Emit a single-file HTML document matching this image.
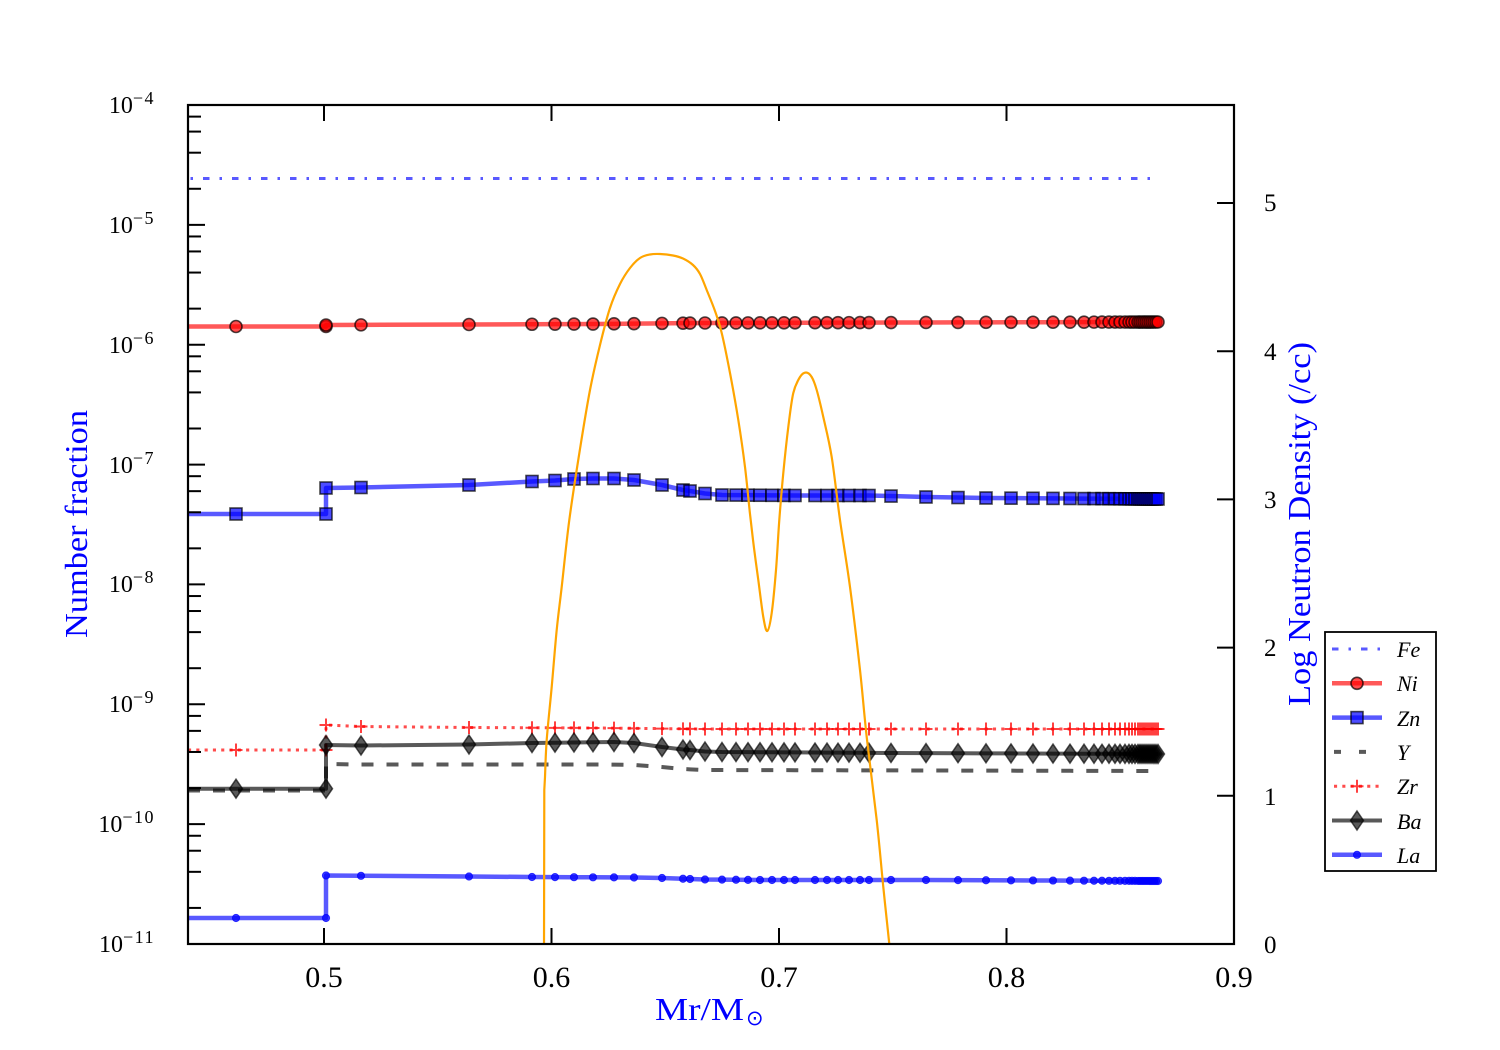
<!DOCTYPE html>
<html><head><meta charset="utf-8">
<style>
html,body{margin:0;padding:0;background:#fff;}
svg{display:block;}
text{font-family:"Liberation Serif","DejaVu Serif",serif;}
</style></head><body>
<svg id="c" width="1500" height="1050" viewBox="0 0 1500 1050" xmlns="http://www.w3.org/2000/svg">
<rect width="1500" height="1050" fill="#fff"/>
<defs><clipPath id="clip"><rect x="188" y="105" width="1046" height="839"/></clipPath></defs>
<g id="data" clip-path="url(#clip)"></g>
<g id="axes"></g>

<!-- left tick labels -->
<g font-size="24" fill="#000" text-anchor="end">
<text x="155" y="113">10<tspan dy="-9" font-size="18" letter-spacing="1.5">−4</tspan></text>
<text x="155" y="233">10<tspan dy="-9" font-size="18" letter-spacing="1.5">−5</tspan></text>
<text x="155" y="353">10<tspan dy="-9" font-size="18" letter-spacing="1.5">−6</tspan></text>
<text x="155" y="473">10<tspan dy="-9" font-size="18" letter-spacing="1.5">−7</tspan></text>
<text x="155" y="592">10<tspan dy="-9" font-size="18" letter-spacing="1.5">−8</tspan></text>
<text x="155" y="712">10<tspan dy="-9" font-size="18" letter-spacing="1.5">−9</tspan></text>
<text x="155" y="832">10<tspan dy="-9" font-size="18" letter-spacing="1.5">−10</tspan></text>
<text x="155" y="952">10<tspan dy="-9" font-size="18" letter-spacing="1.5">−11</tspan></text>
</g>

<!-- bottom tick labels -->
<g font-size="30" fill="#000" text-anchor="middle">
<text x="324" y="987">0.5</text>
<text x="551.5" y="987">0.6</text>
<text x="779" y="987">0.7</text>
<text x="1006.5" y="987">0.8</text>
<text x="1234" y="987">0.9</text>
</g>

<!-- right tick labels -->
<g font-size="25" fill="#000" text-anchor="start">
<text x="1264" y="953">0</text>
<text x="1264" y="805">1</text>
<text x="1264" y="656">2</text>
<text x="1264" y="508">3</text>
<text x="1264" y="360">4</text>
<text x="1264" y="211">5</text>
</g>

<!-- axis labels -->
<text transform="translate(87,524) rotate(-90)" text-anchor="middle" font-size="32" fill="#0000ff" textLength="228" lengthAdjust="spacingAndGlyphs">Number fraction</text>
<text transform="translate(1310,524) rotate(-90)" text-anchor="middle" font-size="32" fill="#0000ff" textLength="364" lengthAdjust="spacingAndGlyphs">Log Neutron Density (/cc)</text>
<text x="655" y="1020" font-size="32" fill="#0000ff" textLength="89" lengthAdjust="spacingAndGlyphs">Mr/M</text>
<text x="746" y="1025" font-size="21" fill="#0000ff" style="font-family:'DejaVu Sans',sans-serif">⊙</text>

<!-- legend -->
<rect x="1325" y="632" width="111" height="239" fill="#fff" stroke="#000" stroke-width="1.8"/>
<g id="legend"></g>
<g font-size="22" font-style="italic" fill="#000">
<text x="1397" y="657">Fe</text>
<text x="1397" y="691">Ni</text>
<text x="1397" y="726">Zn</text>
<text x="1397" y="760">Y</text>
<text x="1397" y="794">Zr</text>
<text x="1397" y="829">Ba</text>
<text x="1397" y="863">La</text>
</g>
</svg>
<script>
(function(){
const NS='http://www.w3.org/2000/svg';
const data=document.getElementById('data');
const axes=document.getElementById('axes');
const leg=document.getElementById('legend');
function el(tag,attrs,parent){const e=document.createElementNS(NS,tag);for(const k in attrs)e.setAttribute(k,attrs[k]);(parent||data).appendChild(e);return e;}
function interp(kp,x){if(x<=kp[0][0])return kp[0][1];for(let i=1;i<kp.length;i++){if(x<=kp[i][0]){const x0=kp[i-1][0],y0=kp[i-1][1],x1=kp[i][0],y1=kp[i][1];return y0+(y1-y0)*(x-x0)/(x1-x0);}}return kp[kp.length-1][1];}
const xsAfter=[361,469,532,555,574,593,614,634,662,683,690,705,722,736,748,760,772,784,795,815,827,838,849,860,869,891,926,958,986,1011,1033,1053,1070,1084,1094,1102,1109,1115,1120,1125,1129,1132,1135,1138,1140,1142,1144,1146,1148,1150,1152,1154,1156,1158];

function marker(type,x,y,g){
  g=g||data;
  if(type==='circle'){el('circle',{cx:x,cy:y,r:6,fill:'rgba(255,0,0,0.7)',stroke:'rgba(0,0,0,0.7)','stroke-width':1.6},g);}
  else if(type==='square'){el('rect',{x:x-6,y:y-6,width:12,height:12,fill:'rgba(0,0,255,0.7)',stroke:'rgba(0,0,0,0.7)','stroke-width':1.6},g);}
  else if(type==='diamond'){el('polygon',{points:`${x},${y-9.5} ${x+6.5},${y} ${x},${y+9.5} ${x-6.5},${y}`,fill:'rgba(0,0,0,0.65)',stroke:'rgba(0,0,0,0.65)','stroke-width':1.5},g);}
  else if(type==='dot'){el('circle',{cx:x,cy:y,r:3.6,fill:'rgba(0,0,255,0.75)',stroke:'rgba(0,0,255,0.75)','stroke-width':1},g);}
  else if(type==='plus'){el('path',{d:`M${x-6.5},${y}H${x+6.5}M${x},${y-6.5}V${y+6.5}`,stroke:'rgba(255,0,0,0.75)','stroke-width':2,fill:'none'},g);}
}

// Fe
el('line',{x1:188,y1:178.5,x2:1157,y2:178.5,stroke:'rgba(0,0,255,0.65)','stroke-width':3,'stroke-dasharray':'6.5 10 2.5 10','stroke-dashoffset':14});

const series=[
 {before:326.5,after:[[326,325],[469,324.5],[600,324],[700,323],[900,322.5],[1158,322]],color:'rgba(255,0,0,0.65)',lw:4.5,m:'circle'},
 {before:514,after:[[326,488],[361,487.5],[469,485],[532,481.5],[555,480.5],[574,479],[593,478.5],[614,478.5],[634,480],[662,485],[683,490],[690,491],[705,493.5],[722,495],[800,495.5],[870,495.5],[926,497],[986,498],[1158,499]],color:'rgba(0,0,255,0.65)',lw:4.5,m:'square'},
 {before:790.5,after:[[326,764],[361,764.5],[600,764.5],[640,765],[662,767],[683,769],[705,770],[1158,771]],color:'rgba(0,0,0,0.65)',lw:4,m:null,dash:'12 13'},
 {before:750,after:[[326,725],[361,726.5],[469,727.5],[600,728],[700,729],[1158,729]],color:'rgba(255,0,0,0.7)',lw:3,m:'plus',dash:'3.1 5.2'},
 {before:788.7,after:[[326,745],[361,745.5],[469,744.5],[532,743],[574,742.5],[614,742],[634,743],[662,747],[683,749.5],[690,750],[705,751.5],[722,752],[900,753],[1158,754]],color:'rgba(0,0,0,0.65)',lw:4,m:'diamond'},
 {before:918,after:[[326,875.5],[361,875.8],[469,876.5],[532,877],[634,877.5],[662,878],[705,879.5],[760,880],[926,880],[1158,881]],color:'rgba(0,0,255,0.65)',lw:4.5,m:'dot'}
];
series.forEach(s=>{
  const pts=[[188,s.before],[236,s.before],[326,s.before],[326,interp(s.after,326)]];
  xsAfter.forEach(x=>pts.push([x,interp(s.after,x)]));
  const a={points:pts.map(p=>p[0]+','+p[1].toFixed(2)).join(' '),fill:'none',stroke:s.color,'stroke-width':s.lw,'stroke-linejoin':'round'};
  if(s.dash)a['stroke-dasharray']=s.dash;
  el('polyline',a);
  if(s.m){
    marker(s.m,236,s.before);
    marker(s.m,326,s.before);
    marker(s.m,326,interp(s.after,326));
    xsAfter.forEach(x=>marker(s.m,x,interp(s.after,x)));
  }
});

// orange neutron density (smoothed with Catmull-Rom)
const orange=[[545,777],[546.7,740],[551.7,687],[556.7,630],[561.7,587],[569.3,520],[580,449],[590,390],[600,345],[610,308],[620,284],[630,268],[640,258],[650,254.5],[660,254],[673,255.5],[683,258.5],[693,265],[700,274],[706.7,290],[715,311],[721.7,333],[730,373],[738.3,420],[745,467],[750,514],[754,548],[758.3,580],[763.3,617],[767.3,631],[771.7,613],[776,570],[779.3,520],[783.3,473],[788.3,427],[793.3,393],[800,377],[806,372.5],[811.7,377],[816.7,390],[823.3,417],[831.7,457],[840,520],[850,587],[860,670],[866.7,737],[876.7,820],[883.3,887],[889.3,944],[890,952]];
function crPath(p){
  let d='M'+p[0][0]+','+p[0][1];
  for(let i=0;i<p.length-1;i++){
    const p0=p[i-1]||p[i],p1=p[i],p2=p[i+1],p3=p[i+2]||p2;
    const c1x=p1[0]+(p2[0]-p0[0])/6,c1y=p1[1]+(p2[1]-p0[1])/6;
    const c2x=p2[0]-(p3[0]-p1[0])/6,c2y=p2[1]-(p3[1]-p1[1])/6;
    d+=` C${c1x.toFixed(2)},${c1y.toFixed(2)} ${c2x.toFixed(2)},${c2y.toFixed(2)} ${p2[0]},${p2[1]}`;
  }
  return d;
}
el('path',{d:'M544,952 L544.3,790 L545,777 '+crPath(orange).replace(/^M[^ ]+/,''),fill:'none',stroke:'#ffa500','stroke-width':2.2,'stroke-linejoin':'round'});

// axes frame & ticks
el('rect',{x:188,y:105,width:1046,height:839,fill:'none',stroke:'#000','stroke-width':2.2},axes);
const tk={stroke:'#000','stroke-width':2};
const dec=839/7;
for(let k=0;k<=7;k++){
  const y=105+dec*k;
  el('line',Object.assign({x1:188,y1:y,x2:205,y2:y},tk),axes);
}
for(let k=1;k<=7;k++){
  const yd=105+dec*k;
  [2,4,6,8].forEach(m=>{const y=yd-dec*Math.log10(m);el('line',Object.assign({x1:188,y1:y,x2:201,y2:y},tk),axes);});
}
[324,551.5,779,1006.5].forEach(x=>{
  el('line',Object.assign({x1:x,y1:944,x2:x,y2:928},tk),axes);
  el('line',Object.assign({x1:x,y1:105,x2:x,y2:121},tk),axes);
});
for(let v=0;v<=5;v++){
  const y=944-148.2*v;
  el('line',Object.assign({x1:1217,y1:y,x2:1234,y2:y},tk),axes);
}

// legend samples
const ly=i=>649+34.3*i;
el('line',{x1:1332,y1:ly(0),x2:1382,y2:ly(0),stroke:'rgba(0,0,255,0.65)','stroke-width':3,'stroke-dasharray':'6.5 10 2.5 10'},leg);
el('line',{x1:1332,y1:ly(1),x2:1382,y2:ly(1),stroke:'rgba(255,0,0,0.65)','stroke-width':4.5},leg);marker('circle',1357,ly(1),leg);
el('line',{x1:1332,y1:ly(2),x2:1382,y2:ly(2),stroke:'rgba(0,0,255,0.65)','stroke-width':4.5},leg);marker('square',1357,ly(2),leg);
el('line',{x1:1334,y1:ly(3),x2:1382,y2:ly(3),stroke:'rgba(0,0,0,0.65)','stroke-width':4,'stroke-dasharray':'7 18'},leg);
el('line',{x1:1334,y1:ly(4),x2:1382,y2:ly(4),stroke:'rgba(255,0,0,0.7)','stroke-width':3,'stroke-dasharray':'3.1 5.2'},leg);marker('plus',1357,ly(4),leg);
el('line',{x1:1332,y1:ly(5),x2:1382,y2:ly(5),stroke:'rgba(0,0,0,0.65)','stroke-width':4},leg);marker('diamond',1357,ly(5),leg);
el('line',{x1:1332,y1:ly(6),x2:1382,y2:ly(6),stroke:'rgba(0,0,255,0.65)','stroke-width':4.5},leg);marker('dot',1357,ly(6),leg);
})();
</script>
</body></html>
